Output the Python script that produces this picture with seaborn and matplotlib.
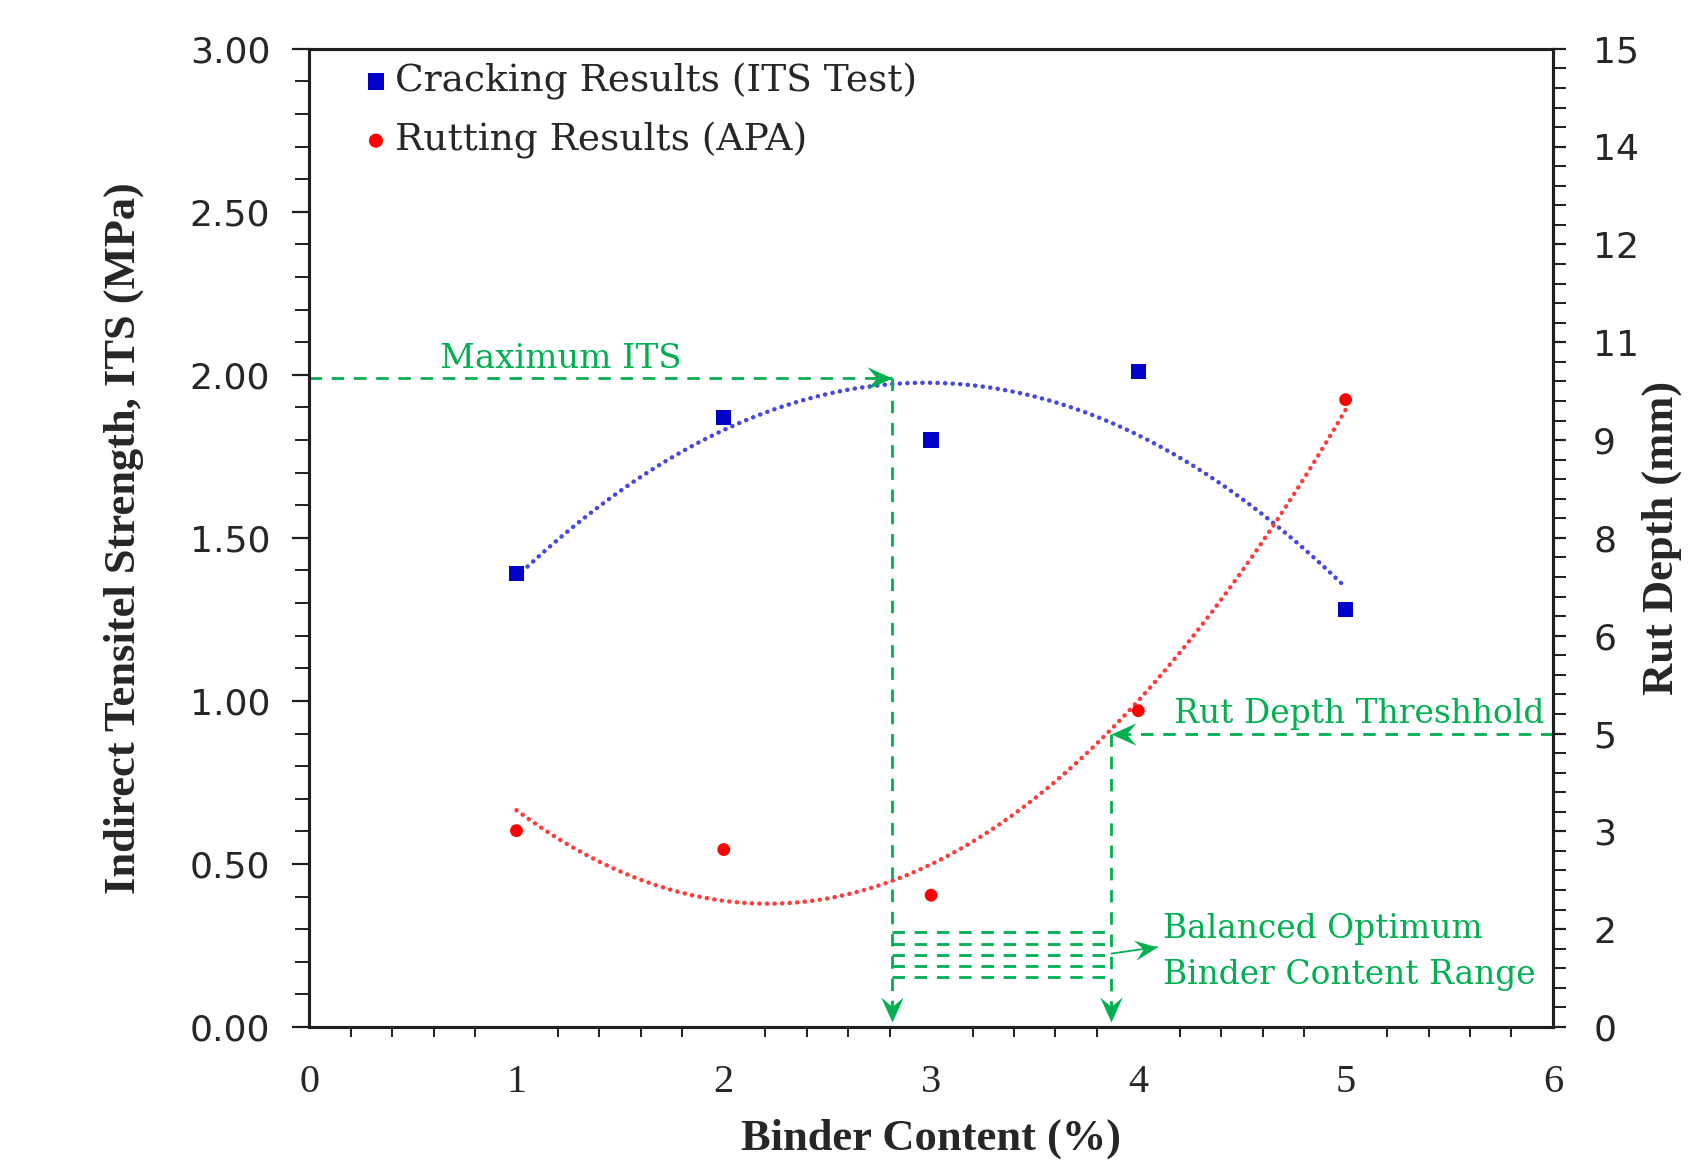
import numpy as np
import pandas as pd
import matplotlib
matplotlib.use("Agg")
import matplotlib.pyplot as plt
from matplotlib.path import Path
from matplotlib.ticker import MultipleLocator, FixedLocator, FixedFormatter, FormatStrFormatter
import seaborn as sns

# -----------------------------
# DATA
# -----------------------------
binder_content = [1, 2, 3, 4, 5]
its_mpa = [1.39, 1.87, 1.80, 2.01, 1.28]
rut_depth_mm = [3.01, 2.72, 2.02, 4.85, 9.62]

rut_ticks = [0, 1.5, 3, 4.5, 6, 7.5, 9, 10.5, 12, 13.5, 15]
rut_tick_labels = ["0", "2", "3", "5", "6", "8", "9", "11", "12", "14", "15"]

# annotation values
max_its = 1.99
max_its_binder = 2.81
rut_threshold = 4.5
threshold_binder = 3.87
range_levels = [0.29, 0.255, 0.22, 0.187, 0.152]

df = pd.DataFrame({"binder": binder_content, "its": its_mpa, "rut": rut_depth_mm})

# -----------------------------
# STYLE
# -----------------------------
sns.set_theme(style="white")
plt.rcParams["font.family"] = ["DejaVu Serif"]

GREEN = "#00B050"
BLUE = "#0000C8"
BLUE_LINE = "#4646E0"
RED = "#FF0000"
RED_LINE = "#FF3C3C"
SPINE = "#1E1E1E"

fig = plt.figure(figsize=(16.99, 11.63), dpi=100)
ax = fig.add_axes([0.182, 0.117, 0.732, 0.841])
ax2 = ax.twinx()


def stealth(angle):
    t = np.deg2rad(angle)
    pts = np.array([(0, 0), (-1, 0.45), (-0.62, 0), (-1, -0.45), (0, 0)])
    rot = np.array([[np.cos(t), -np.sin(t)], [np.sin(t), np.cos(t)]])
    codes = [Path.MOVETO, Path.LINETO, Path.LINETO, Path.LINETO, Path.CLOSEPOLY]
    return Path(pts @ rot.T, codes)


# -----------------------------
# TREND LINES + POINTS
# -----------------------------
dotted = dict(lw=3.2, linestyle=(0, (0.05, 1.65)), dash_capstyle="round")
sns.regplot(data=df, x="binder", y="its", order=2, ci=None, scatter=False,
            ax=ax, line_kws=dict(color=BLUE_LINE, **dotted))
sns.scatterplot(data=df, x="binder", y="its", marker="s", color=BLUE, s=120,
                edgecolor="none", ax=ax, label="Cracking Results (ITS Test)", zorder=5)

sns.regplot(data=df, x="binder", y="rut", order=2, ci=None, scatter=False,
            ax=ax2, line_kws=dict(color=RED_LINE, **dotted))
sns.scatterplot(data=df, x="binder", y="rut", marker="o", color=RED, s=85,
                edgecolor="none", ax=ax2, label="Rutting Results (APA)", zorder=5)

for a in (ax, ax2):
    if a.get_legend() is not None:
        a.get_legend().remove()

# -----------------------------
# GREEN ANNOTATIONS
# -----------------------------
dash = dict(color=GREEN, lw=2.0, linestyle=(0, (4.5, 3.5)))
ax.plot([0, max_its_binder], [max_its, max_its], **dash)
ax.plot([max_its_binder, max_its_binder], [max_its, 0.03], **dash)
ax.plot([max_its_binder], [max_its], marker=stealth(0), ms=36, color=GREEN, mew=0)
ax.plot([max_its_binder], [0.015], marker=stealth(-90), ms=36, color=GREEN, mew=0)

ax2.plot([6, threshold_binder], [rut_threshold, rut_threshold], **dash)
ax2.plot([threshold_binder, threshold_binder], [rut_threshold, 0.15], **dash)
ax2.plot([threshold_binder], [rut_threshold], marker=stealth(180), ms=36, color=GREEN, mew=0)
ax2.plot([threshold_binder], [0.075], marker=stealth(-90), ms=36, color=GREEN, mew=0)

for lvl in range_levels:
    ax.plot([max_its_binder, threshold_binder], [lvl, lvl], **dash)
ax.plot([threshold_binder, 4.09], [0.225, 0.245], color=GREEN, lw=1.3)
ax.plot([4.09], [0.245], marker=stealth(8), ms=34, color=GREEN, mew=0)

txt = dict(color=GREEN, family="DejaVu Serif")
ax.text(0.63, 2.02, "Maximum ITS", ha="left", va="baseline", fontsize=24.5, **txt)
ax.text(4.17, 0.933, "Rut Depth Threshhold", ha="left", va="baseline", fontsize=23.7, **txt)
ax.text(4.12, 0.272, "Balanced Optimum", ha="left", va="baseline", fontsize=23.7, **txt)
ax.text(4.12, 0.1325, "Binder Content Range", ha="left", va="baseline", fontsize=23.7, **txt)

# -----------------------------
# AXES
# -----------------------------
ax.set_xlim(0, 6)
ax.set_ylim(0, 3)
ax2.set_ylim(0, 15)

ax.xaxis.set_major_locator(MultipleLocator(1))
ax.xaxis.set_minor_locator(MultipleLocator(0.2))
ax.yaxis.set_major_locator(MultipleLocator(0.5))
ax.yaxis.set_minor_locator(MultipleLocator(0.1))
ax.yaxis.set_major_formatter(FormatStrFormatter("%.2f"))
ax2.yaxis.set_major_locator(FixedLocator(rut_ticks))
ax2.yaxis.set_major_formatter(FixedFormatter(rut_tick_labels))
ax2.yaxis.set_minor_locator(MultipleLocator(0.3))

ax.tick_params(axis="x", which="major", direction="out", length=11, width=1.6,
               color=SPINE, pad=16, labelsize=29, top=False)
ax.tick_params(axis="x", which="minor", direction="out", length=7, width=1.4,
               color=SPINE, top=False, bottom=True)
ax.tick_params(axis="y", which="major", direction="out", length=12, width=1.6,
               color=SPINE, pad=16, labelsize=26, right=False, left=True)
ax.tick_params(axis="y", which="minor", direction="out", length=10, width=1.4,
               color=SPINE, right=False, left=True)
ax2.tick_params(axis="y", which="major", direction="out", length=9, width=1.6,
                color=SPINE, pad=20, labelsize=26, right=True, left=False)
ax2.tick_params(axis="y", which="minor", direction="out", length=9, width=1.4,
                color=SPINE, right=True, left=False)

for lab in ax.get_xticklabels():
    lab.set_fontfamily("Liberation Serif")
for lab in ax.get_yticklabels() + ax2.get_yticklabels():
    lab.set_fontfamily("DejaVu Sans")

for a in (ax, ax2):
    for sp in a.spines.values():
        sp.set_color(SPINE)
        sp.set_linewidth(2.2)

lbl = dict(fontsize=32, fontweight="bold", family="Liberation Serif")
ax.set_xlabel("Binder Content (%)", **lbl)
ax.set_ylabel("Indirect Tensitel Strength, ITS (MPa)", **lbl)
ax2.set_ylabel("Rut Depth (mm)", **lbl)
ax.xaxis.set_label_coords(0.5, -0.094)
ax.yaxis.set_label_coords(-0.133, 0.5)
ax2.yaxis.set_label_coords(1.071, 0.5)

# -----------------------------
# LEGEND
# -----------------------------
h1, l1 = ax.get_legend_handles_labels()
h2, l2 = ax2.get_legend_handles_labels()
ax2.legend(h1 + h2, l1 + l2, loc="upper left", bbox_to_anchor=(0.025, 1.009),
           frameon=False, fontsize=27, handletextpad=0.15, handlelength=0.7,
           labelspacing=0.6, borderaxespad=0.2, markerscale=1.1)

fig.savefig("out.png", dpi=100)
